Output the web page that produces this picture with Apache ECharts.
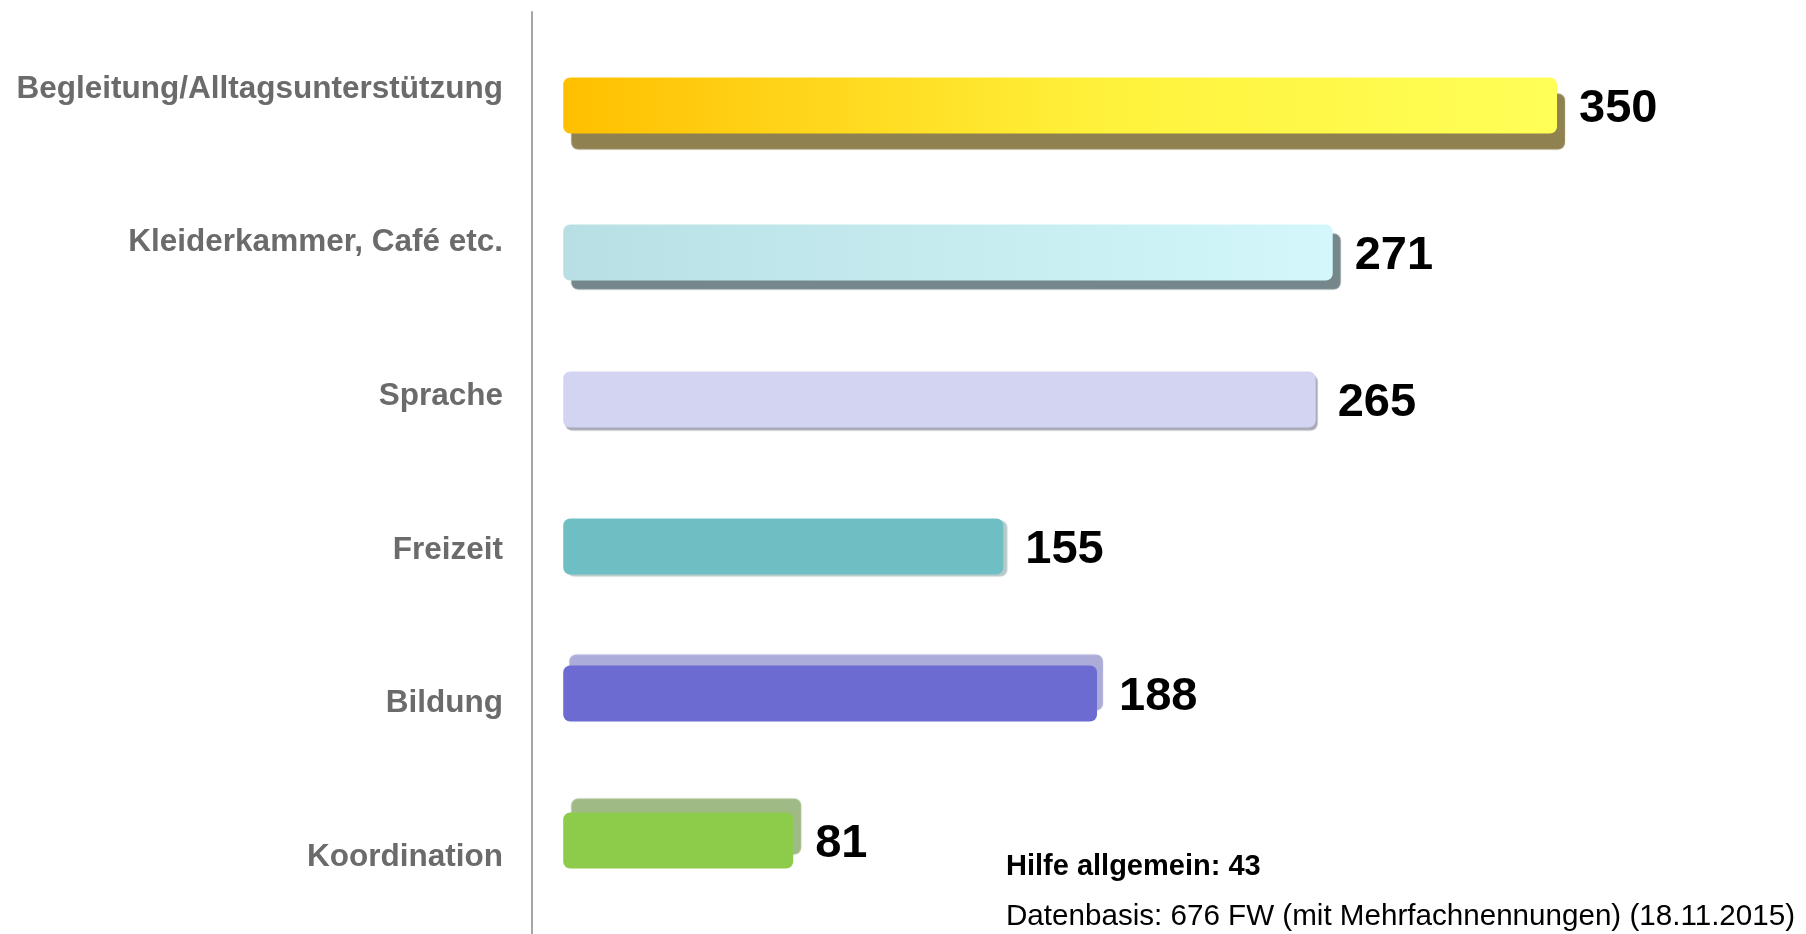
<!DOCTYPE html>
<html>
<head>
<meta charset="utf-8">
<script src="https://cdn.jsdelivr.net/npm/echarts@6/dist/echarts.min.js"></script>
<style>
html,body{margin:0;padding:0;background:#fff;}
#chart{width:1806px;height:934px;}
</style>
</head>
<body>
<div id="chart"></div>
<script>
const categories = ['Begleitung/Alltagsunterstützung', 'Kleiderkammer, Café etc.', 'Sprache', 'Freizeit', 'Bildung', 'Koordination'];
const values = [350, 271, 265, 155, 188, 81];
const noteTitle = 'Hilfe allgemein: 43';
const noteSource = 'Datenbasis: 676 FW (mit Mehrfachnennungen) (18.11.2015)';

const barStyles = [
  { color: { type: 'linear', x: 0, y: 0, x2: 1, y2: 0, colorStops: [{offset: 0, color: '#ffbf00'}, {offset: 0.55, color: '#fff23c'}, {offset: 1, color: '#ffff58'}] }, shadowColor: '#8f8150', shadowOffsetX: 8, shadowOffsetY: 16 },
  { color: { type: 'linear', x: 0, y: 0, x2: 1, y2: 0, colorStops: [{offset: 0, color: '#b8e0e4'}, {offset: 1, color: '#d3f7fb'}] }, shadowColor: '#75878a', shadowOffsetX: 8, shadowOffsetY: 9 },
  { color: '#d3d3f2', shadowColor: '#a9a9b8', shadowOffsetX: 2, shadowOffsetY: 3 },
  { color: '#6ebfc3', shadowColor: '#b9c9ca', shadowOffsetX: 4, shadowOffsetY: 2 },
  { color: '#6b6bd1', shadowColor: '#acacd8', shadowOffsetX: 6, shadowOffsetY: -11 },
  { color: '#8dcc4a', shadowColor: '#a0ba86', shadowOffsetX: 8, shadowOffsetY: -14 }
];

const FONT = '"Liberation Sans", Arial, sans-serif';

const chart = echarts.init(document.getElementById('chart'));
chart.setOption({
  backgroundColor: '#ffffff',
  animation: false,
  grid: [
    { left: 532, right: 107, top: 12, bottom: 0, containLabel: false },
    { left: 532, right: 107, top: 32, bottom: 20, containLabel: false }
  ],
  xAxis: [
    { gridIndex: 0, type: 'value', min: -11, max: 400, show: false },
    { gridIndex: 1, type: 'value', min: -11, max: 400, show: false }
  ],
  yAxis: [
    {
      gridIndex: 0, type: 'category', inverse: true, data: categories,
      axisLine: { show: true, onZero: false, lineStyle: { color: '#a6a6a6', width: 2 } },
      axisTick: { show: false },
      splitLine: { show: false },
      axisLabel: { color: '#6b6b6b', fontWeight: 'bold', fontSize: 31.5, fontFamily: FONT, margin: 29 }
    },
    {
      gridIndex: 1, type: 'category', inverse: true, data: categories, show: false
    }
  ],
  graphic: [
    { type: 'text', left: 1006, top: 867 - 15, style: { text: noteTitle, fill: '#000', font: 'bold 29px ' + FONT } },
    { type: 'text', left: 1006, top: 917 - 15, style: { text: noteSource, fill: '#000', font: '29.6px ' + FONT } }
  ],
  series: [{
    type: 'bar',
    xAxisIndex: 1,
    yAxisIndex: 1,
    barWidth: 56,
    data: values.map((v, i) => ({
      value: v,
      itemStyle: Object.assign({ borderRadius: 7, shadowBlur: 1 }, barStyles[i])
    })),
    label: {
      show: true,
      position: 'right',
      distance: 22,
      offset: [0, 4],
      color: '#000',
      fontWeight: 'bold',
      fontSize: 47,
      fontFamily: FONT
    }
  }]
});
</script>
</body>
</html>
